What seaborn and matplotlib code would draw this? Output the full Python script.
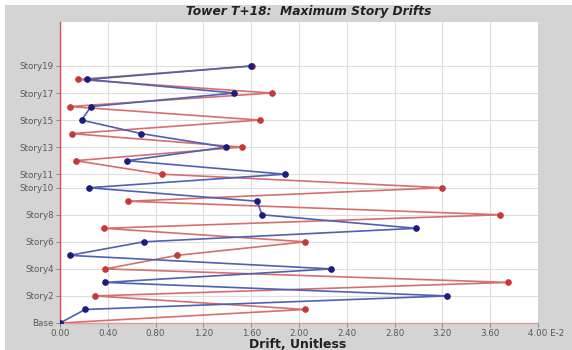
import matplotlib
matplotlib.use("Agg")
import matplotlib.pyplot as plt
import matplotlib.transforms as mtransforms
import seaborn as sns
import pandas as pd
import numpy as np

stories = ["Base"] + [f"Story{i}" for i in range(1, 20)]
drift_x = [0.00, 2.05, 0.29, 3.75, 0.38, 0.98, 2.05, 0.37, 3.68, 0.57,
           3.20, 0.85, 0.13, 1.52, 0.10, 1.67, 0.08, 1.77, 0.15, 1.61]
drift_y = [0.00, 0.21, 3.24, 0.38, 2.27, 0.08, 0.70, 2.98, 1.69, 1.65,
           0.24, 1.88, 0.56, 1.39, 0.68, 0.18, 0.26, 1.46, 0.23, 1.60]
ytick_labels = ["Base", "Story2", "Story4", "Story6", "Story8", "Story10",
                "Story11", "Story13", "Story15", "Story17", "Story19"]
xtick_values = [0.00, 0.40, 0.80, 1.20, 1.60, 2.00, 2.40, 2.80, 3.20, 3.60, 4.00]

level = list(range(len(stories)))
df = pd.DataFrame({
    "level": level * 2,
    "drift": drift_x + drift_y,
    "dir": ["X"] * len(stories) + ["Y"] * len(stories),
})

sns.set_theme(style="white")
plt.rcParams['font.family'] = ['DejaVu Sans']

fig = plt.figure(figsize=(5.72, 3.5), dpi=100, facecolor="white")
bg = plt.Rectangle((5 / 572, 0), 1, 1 - 5 / 350, transform=fig.transFigure,
                   facecolor="#d4d4d4", edgecolor="none", zorder=-10)
fig.patches.append(bg)

ax = fig.add_axes([60 / 572, 1 - 323 / 350, (538 - 60) / 572, (323 - 22) / 350])
ax.set_facecolor("white")

red_line = "#d86e6e"
blue_line = "#5060b2"
sns.lineplot(data=df[df["dir"] == "X"], x="drift", y="level", sort=False,
             estimator=None, ax=ax, color=red_line, lw=1.2, marker="o",
             markersize=4, markerfacecolor="#c83838", markeredgecolor="#c83838",
             zorder=3)
sns.lineplot(data=df[df["dir"] == "Y"], x="drift", y="level", sort=False,
             estimator=None, ax=ax, color=blue_line, lw=1.2, marker="o",
             markersize=4, markerfacecolor="#1c1c80", markeredgecolor="#1c1c80",
             zorder=4)

ax.set_xlim(0, 4.0)
ax.set_ylim(0, 22.25)

ytick_pos = [stories.index(s) for s in ytick_labels]
ax.set_yticks(ytick_pos)
ax.set_yticklabels(ytick_labels)
ax.set_xticks(xtick_values)
xl = [f"{v:.2f}" for v in xtick_values]
xl[-1] = "4.00 E-2"
ax.set_xticklabels(xl)

ax.tick_params(axis="both", which="major", labelsize=6.3, labelcolor="#5a5a5a",
               length=3, width=0.7, color="#888888", direction="out",
               bottom=True, left=True, pad=1.5)
last = ax.get_xticklabels()[-1]
last.set_ha("left")
last.set_transform(last.get_transform() +
                   mtransforms.ScaledTranslation(-10 / 100, 0, fig.dpi_scale_trans))

ax.grid(True, color="#dedede", lw=0.8)
ax.set_axisbelow(True)
for s in ["top", "right"]:
    ax.spines[s].set_visible(False)
ax.spines["left"].set_color("#e05050")
ax.spines["left"].set_linewidth(1.0)
ax.spines["bottom"].set_color("#e39a9a")
ax.spines["bottom"].set_linewidth(1.0)

ax.set_xlabel("")
ax.set_ylabel("")
fig.text(309 / 572, 1 - 11 / 350, "Tower T+18:  Maximum Story Drifts",
         ha="center", va="center", fontsize=8.8, fontweight="bold",
         fontstyle="italic", color="#222222")
fig.text(298 / 572, 1 - 344.5 / 350, "Drift, Unitless", ha="center",
         va="center", fontsize=9, fontweight="bold", color="#222222")

fig.savefig("out.png", dpi=100, facecolor=fig.get_facecolor())
